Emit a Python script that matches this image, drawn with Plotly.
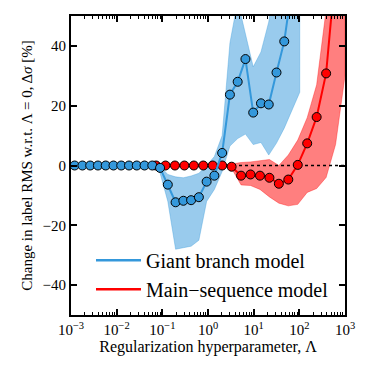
import plotly.graph_objects as go

# Giant branch model (blue)
giant_lam = [0.001202, 0.001778, 0.00263, 0.00389, 0.00575, 0.00851, 0.01259, 0.01862,
             0.02754, 0.04074, 0.06026, 0.08913, 0.1318, 0.1950, 0.2884, 0.4266, 0.6310,
             0.9333, 1.380, 2.042, 3.020, 4.467, 6.607, 9.772, 14.45, 21.38, 31.62, 46.77,
             69.18, 102.3]
giant_val = [0, 0, 0, 0, 0, 0, 0, 0, 0, 0, 0, -0.8, -6.4, -12.3, -11.8, -11.6, -10.6,
             -5.4, -3.4, 4.2, 23.7, 28.0, 35.6, 17.7, 20.8, 20.4, 31.1, 41.5, 60, 80]
giant_lo = [0, 0, 0, 0, 0, 0, 0, 0, 0, 0, 0, -2.5, -12, -28, -27.5, -27, -25, -12, -8,
            -2, 6.5, 9, 10.5, 7, 7.7, 3.5, 7.5, 12.5, 18.5, 24.5]
giant_hi = [0, 0, 0, 0, 0, 0, 0, 0, 0, 0, 0, -0.3, -3, -3.8, -4.1, -3.5, -2.6, 0, 3, 10,
            41, 55, 44, 33, 38, 48, 66, 80, 95, 110]

# Main-sequence model (red)
main_lam = [0.07279, 0.1172, 0.1887, 0.3039, 0.4894, 0.7880, 1.269, 2.043, 3.290, 5.298,
            8.532, 13.74, 22.12, 35.62, 57.36, 92.37, 148.7, 239.5, 385.7, 621.0, 1000]
main_val = [0, 0, 0, 0, 0, 0, 0, 0, -0.4, -3.4, -3.0, -3.4, -4.1, -6.1, -4.7, 0.2, 7.4,
            16.2, 30.8, 61, 100]
main_lo = [0, 0, 0, 0, 0, 0, 0, 0, -1, -6.5, -6.7, -8, -10.5, -12.6, -13.5, -13, -9,
           -7.7, -4, 7, 30]
main_hi = [0, 0, 0, 0, 0, 0, 0, 0, 0.5, 1.0, 1.2, 1.5, 2.0, 0.0, 3.5, 8.5, 16, 27, 52,
           120, 160]

BLUE = '#3498db'
RED = '#ff0000'
FONT = 'Liberation Serif'

fig = go.Figure()

# shaded ranges
fig.add_trace(go.Scatter(
    x=main_lam + main_lam[::-1], y=main_hi + main_lo[::-1],
    fill='toself', fillcolor='rgba(255,0,0,0.5)', mode='lines',
    line=dict(color='rgba(255,0,0,0.35)', width=1), showlegend=False, hoverinfo='skip'))
fig.add_trace(go.Scatter(
    x=giant_lam + giant_lam[::-1], y=giant_hi + giant_lo[::-1],
    fill='toself', fillcolor='rgba(52,152,219,0.5)', mode='lines',
    line=dict(color='rgba(52,152,219,0.35)', width=1), showlegend=False, hoverinfo='skip'))

# zero reference
fig.add_trace(go.Scatter(x=[1e-3, 1e3], y=[0, 0], mode='lines',
                         line=dict(color='black', width=1.5, dash='dot'),
                         showlegend=False, hoverinfo='skip'))

fig.add_trace(go.Scatter(x=main_lam, y=main_val, mode='lines+markers',
                         line=dict(color=RED, width=2),
                         marker=dict(size=9, color=RED, line=dict(color='black', width=1)),
                         showlegend=False))
fig.add_trace(go.Scatter(x=giant_lam, y=giant_val, mode='lines+markers',
                         line=dict(color=BLUE, width=2),
                         marker=dict(size=9, color=BLUE, line=dict(color='black', width=1)),
                         showlegend=False))

# legend entries (lines only)
fig.add_trace(go.Scatter(x=[None], y=[None], mode='lines', line=dict(color=BLUE, width=2.5),
                         name='Giant branch model'))
fig.add_trace(go.Scatter(x=[None], y=[None], mode='lines', line=dict(color=RED, width=2.5),
                         name='Main\u2212sequence model'))

minor_x = [m * 10.0 ** e for e in range(-3, 3) for m in range(2, 10)]

# page body has an 8px margin, so the figure is 365px and offsets are reduced by 8
fig.update_layout(
    width=365, height=365,
    margin=dict(l=63, r=28, t=8, b=58, autoexpand=False),
    paper_bgcolor='white', plot_bgcolor='white',
    font=dict(family=FONT, size=15, color='black'),
    legend=dict(x=0.073, y=0.248, xanchor='left', yanchor='top', itemwidth=45,
                bgcolor='rgba(0,0,0,0)', font=dict(size=20), tracegroupgap=0),
)

fig.update_xaxes(
    type='log', range=[-3, 3], automargin=False,
    tickvals=[1e-3, 1e-2, 1e-1, 1, 10, 100, 1000],
    ticktext=['10<sup>\u22123</sup>', '10<sup>\u22122</sup>', '10<sup>\u22121</sup>',
              '10<sup>0</sup>', '10<sup>1</sup>', '10<sup>2</sup>', '10<sup>3</sup>'],
    ticks='inside', ticklen=6, tickwidth=1.5, tickcolor='black',
    minor=dict(tickvals=minor_x, ticks='inside', ticklen=3, tickwidth=1, tickcolor='black'),
    showline=True, linecolor='black', linewidth=2, mirror='ticks',
    showgrid=False, zeroline=False,
    title=dict(text='Regularization hyperparameter, \u039b', standoff=4,
               font=dict(size=16)),
)
fig.update_yaxes(
    range=[-50, 50], automargin=False, tickvals=[-40, -20, 0, 20, 40],
    ticktext=['\u221240', '\u221220', '0', '20', '40'],
    ticks='inside', ticklen=6, tickwidth=1.5, tickcolor='black',
    showline=True, linecolor='black', linewidth=2, mirror='ticks',
    showgrid=False, zeroline=False,
    title=dict(text='Change in label RMS w.r.t. \u039b = 0, \u0394<i>\u03c3</i> [%]', standoff=6,
               font=dict(size=15)),
)

fig.write_html('out.html')
